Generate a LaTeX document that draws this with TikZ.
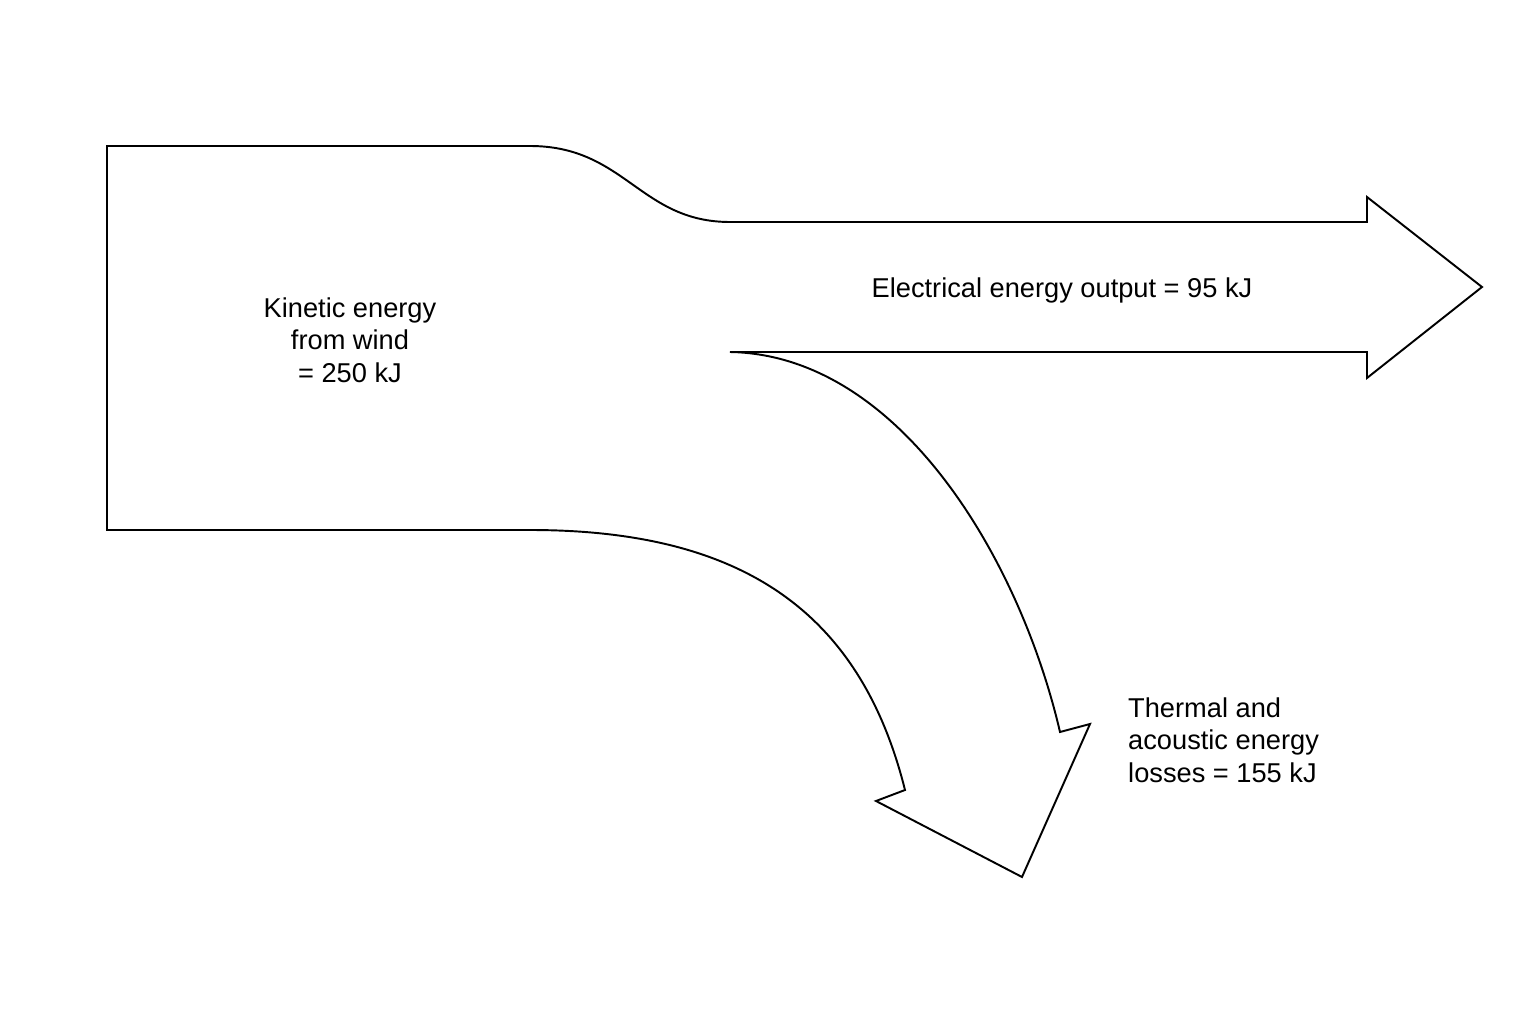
\documentclass[tikz,border=0pt]{standalone}
\usepackage{fontspec}
\setmainfont{Liberation Sans}
\begin{document}
\begin{tikzpicture}[x=0.02cm,y=-0.02cm,
  label text/.style={font=\fontsize{15.5}{18.5}\selectfont}]
			%%%%% START %%%%%
			\useasboundingbox (0,0) rectangle (1536,1024);
			
			\draw[line width=1.1pt, line join=miter] (107,146) -- (530,146)
			  .. controls (625,146) and (640,222) .. (730,222)
			  -- (1367,222) -- (1367,197) -- (1482,287) -- (1367,378) -- (1367,352)
			  -- (730,352) .. controls (900,355) and (1020,560) .. (1060,732)
			  -- (1090,724) -- (1022,877) -- (876,801) -- (905,790)
			  .. controls (860,610) and (740,530) .. (530,530)
			  -- (107,530) -- cycle;
			
			\node[label text, align=center] (kinetic) at (350,340) {Kinetic energy\\from wind\\= 250 kJ};
			\node[label text] (electrical) at (1062,290) {Electrical energy output = 95 kJ};
			\node[label text, align=left, anchor=west] (losses) at (1122,740) {Thermal and\\acoustic energy\\losses = 155 kJ};
			
			%%%%% END %%%%%
\end{tikzpicture}
\end{document}
